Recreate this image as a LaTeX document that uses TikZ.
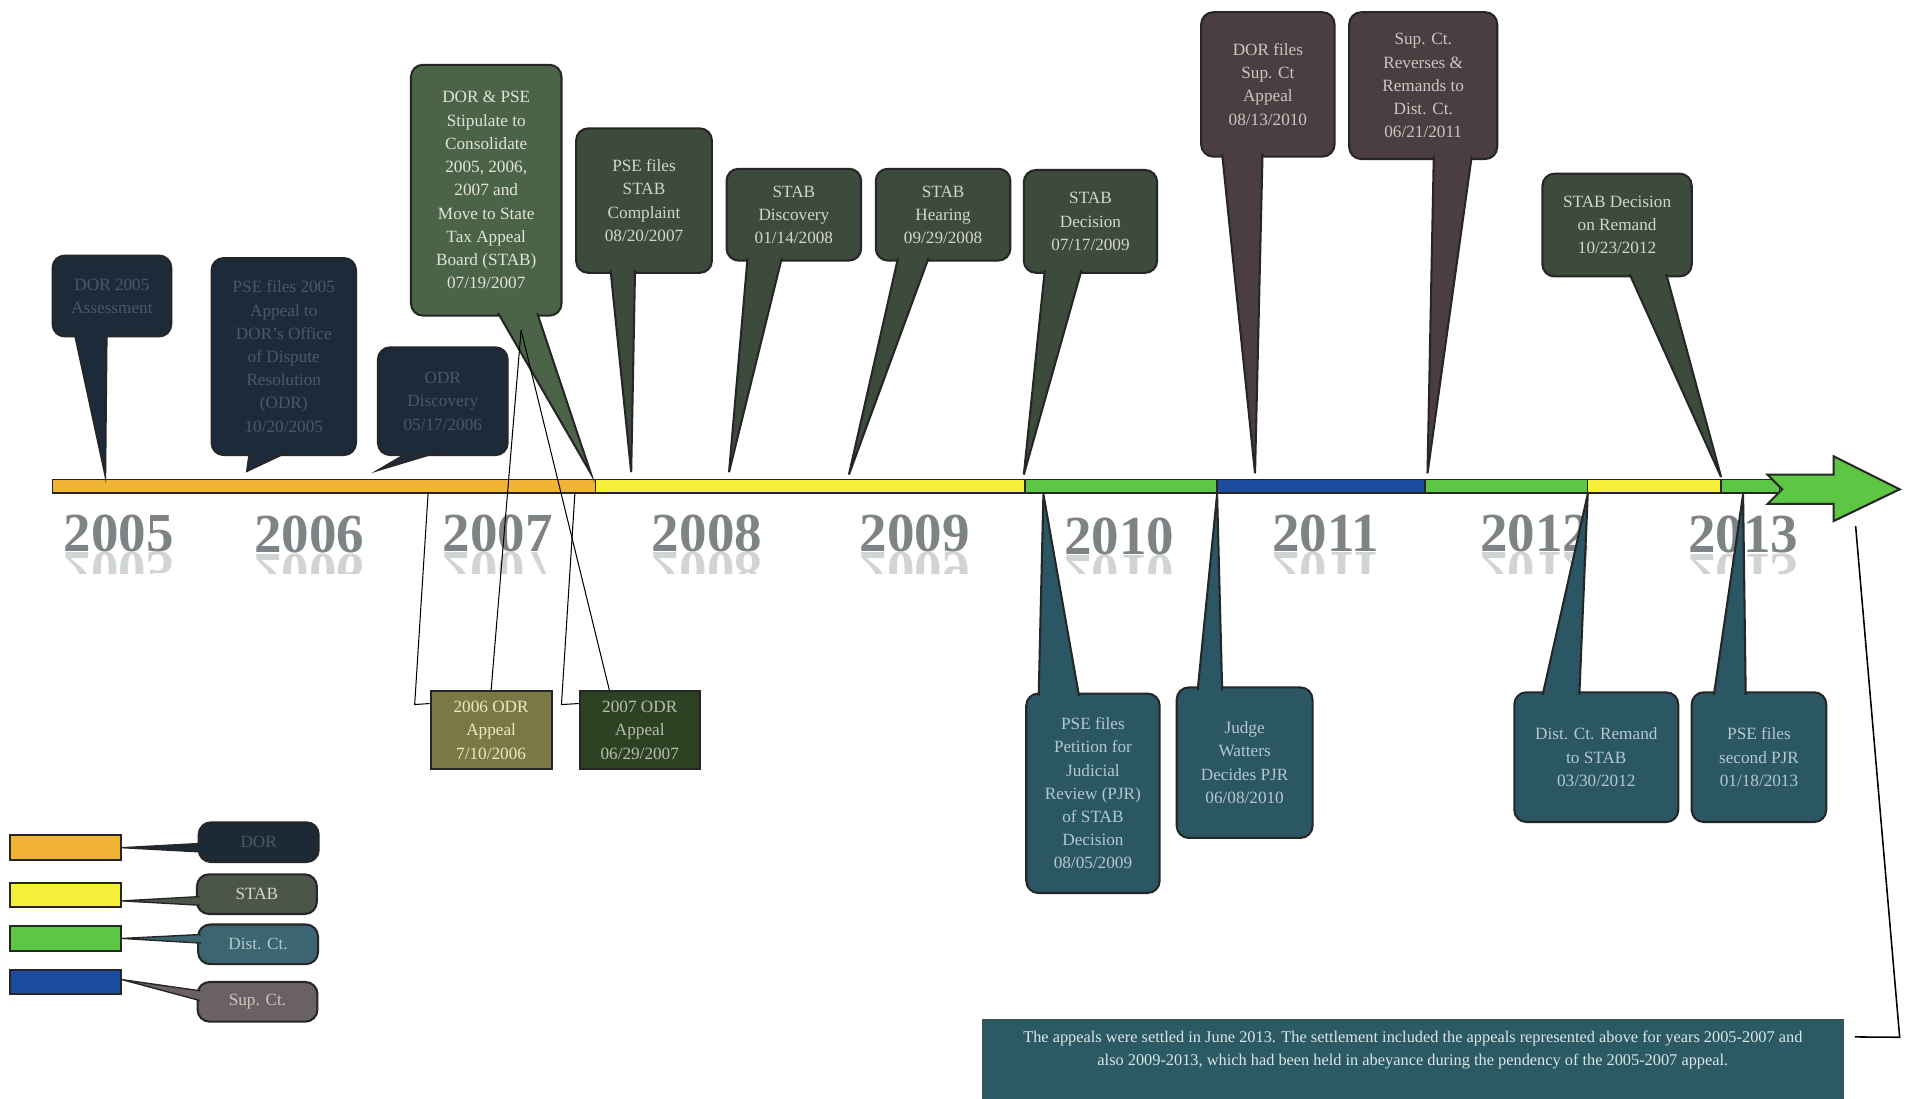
\documentclass[tikz,border=0pt]{standalone}
\usepackage{fontspec}
\setmainfont{Liberation Serif}
\usepackage{graphicx}
\usepackage{xcolor}
\usepackage{tikz}
\usetikzlibrary{shapes,arrows,positioning,calc}

\definecolor{dorbar}{HTML}{F1B434}
\definecolor{stabbar}{HTML}{F5EF3A}
\definecolor{distbar}{HTML}{5DC645}
\definecolor{supbar}{HTML}{1B4C9E}
\definecolor{dorfill}{HTML}{1C2B3A}
\definecolor{dortext}{HTML}{4C5866}
\definecolor{stabfill}{HTML}{3C4B3B}
\definecolor{stabtext}{HTML}{D4D6CC}
\definecolor{stipfill}{HTML}{4B6347}
\definecolor{stiptext}{HTML}{E2E4DA}
\definecolor{supfill}{HTML}{4B3E40}
\definecolor{suptext}{HTML}{CFC4C4}
\definecolor{distfill}{HTML}{2B5664}
\definecolor{disttext}{HTML}{B4C8CE}
\definecolor{odrsixfill}{HTML}{7A7946}
\definecolor{odrsixtext}{HTML}{ECE8C4}
\definecolor{odrsevenfill}{HTML}{2D4222}
\definecolor{odrseventext}{HTML}{B8BEA8}
\definecolor{settlefill}{HTML}{2B5A64}
\definecolor{settletext}{HTML}{DCE6E4}
\definecolor{keydorfill}{HTML}{1D2935}
\definecolor{keystabfill}{HTML}{4B5548}
\definecolor{keydistfill}{HTML}{3B6571}
\definecolor{keysupfill}{HTML}{6A6162}
\definecolor{yeargray}{HTML}{7E8486}

\begin{document}
\begin{tikzpicture}[x=0.025cm, y=-0.025cm]
  % Define styles
  \tikzstyle{bubble} = [rectangle, draw=black!85, very thick, rounded corners=7pt, align=center, inner sep=2pt, font=\fontsize{10}{13.5}\selectfont]
  \tikzstyle{dorbox} = [bubble, fill=dorfill, text=dortext]
  \tikzstyle{stabbox} = [bubble, fill=stabfill, text=stabtext]
  \tikzstyle{stipbox} = [bubble, fill=stipfill, text=stiptext]
  \tikzstyle{supbox} = [bubble, fill=supfill, text=suptext]
  \tikzstyle{distbox} = [bubble, fill=distfill, text=disttext]
  \tikzstyle{odrbox} = [rectangle, draw=black!85, very thick, align=center, font=\fontsize{10}{13.5}\selectfont, minimum height=1.6cm]
  \tikzstyle{ptr} = [draw=black!85, very thick]
  \tikzstyle{barseg} = [draw=black!85, thick]
  \tikzstyle{yearlbl} = [anchor=base, inner sep=0pt, font=\fontsize{32}{32}\selectfont\bfseries, text=yeargray]
  \tikzstyle{yearref} = [yearlbl, text opacity=0.35]
  \tikzstyle{link} = [black, line width=0.6pt]
  \tikzstyle{legbar} = [rectangle, draw=black!85, very thick, minimum width=2.275cm, minimum height=0.5cm]
  \tikzstyle{keybox} = [bubble, minimum width=2.45cm, minimum height=0.81cm]

  % Background
  \fill[white] (0,0) rectangle (1568,898);
  \useasboundingbox (0,0) rectangle (1568,898);

  % Timeline bar
  \filldraw[barseg, fill=dorbar] (43,392) rectangle (487,403);
  \filldraw[barseg, fill=stabbar] (487,392) rectangle (838,403);
  \filldraw[barseg, fill=distbar] (838,392) rectangle (995,403);
  \filldraw[barseg, fill=supbar] (995,392) rectangle (1165,403);
  \filldraw[barseg, fill=distbar] (1165,392) rectangle (1298,403);
  \filldraw[barseg, fill=stabbar] (1298,392) rectangle (1407,403);
  \filldraw[barseg, fill=distbar] (1407,392) rectangle (1455,403);
  \filldraw[barseg, very thick, fill=distbar] (1445,388) -- (1499,388) -- (1499,373) -- (1553,400) -- (1499,426) -- (1499,412) -- (1445,412) -- (1457,400) -- cycle;

  % Years
  \node[yearlbl] (y2005) at (97,451) {2005};
  \node[yearlbl] (y2006) at (253,452) {2006};
  \node[yearlbl] (y2007) at (407,451) {2007};
  \node[yearlbl] (y2008) at (578,451) {2008};
  \node[yearlbl] (y2009) at (748,451) {2009};
  \node[yearlbl] (y2010) at (915,453) {2010};
  \node[yearlbl] (y2011) at (1084,451) {2011};
  \node[yearlbl] (y2012) at (1255,451) {2012};
  \node[yearlbl] (y2013) at (1425,452) {2013};
  \begin{scope}
    \clip (40,452) rectangle (1500,469);
    \node[yearref] (r2005) at (97,452) {\scalebox{1}[-1]{2005}};
    \node[yearref] (r2006) at (253,453) {\scalebox{1}[-1]{2006}};
    \node[yearref] (r2007) at (407,452) {\scalebox{1}[-1]{2007}};
    \node[yearref] (r2008) at (578,452) {\scalebox{1}[-1]{2008}};
    \node[yearref] (r2009) at (748,452) {\scalebox{1}[-1]{2009}};
    \node[yearref] (r2010) at (915,454) {\scalebox{1}[-1]{2010}};
    \node[yearref] (r2011) at (1084,452) {\scalebox{1}[-1]{2011}};
    \node[yearref] (r2012) at (1255,452) {\scalebox{1}[-1]{2012}};
    \node[yearref] (r2013) at (1425,453) {\scalebox{1}[-1]{2013}};
  \end{scope}

  % Events above the bar
  \node[dorbox, minimum width=2.425cm, minimum height=1.65cm] (b05) at (91.5,242) {DOR 2005\\Assessment};
  \node[dorbox, minimum width=2.95cm, minimum height=4.025cm] (bodr) at (232,291.5) {PSE files 2005\\Appeal to\\DOR's Office\\of Dispute\\Resolution\\(ODR)\\10/20/2005};
  \node[dorbox, minimum width=2.65cm, minimum height=2.2cm] (bdisc06) at (362,328) {ODR\\Discovery\\05/17/2006};
  \node[stipbox, minimum width=3.075cm, minimum height=5.125cm] (bstip) at (397.5,155.5) {DOR \& PSE\\Stipulate to\\Consolidate\\2005, 2006,\\2007 and\\Move to State\\Tax Appeal\\Board (STAB)\\07/19/2007};
  \node[stabbox, minimum width=2.775cm, minimum height=2.95cm] (bcompl) at (526.5,164) {PSE files\\STAB\\Complaint\\08/20/2007};
  \node[stabbox, minimum width=2.75cm, minimum height=1.875cm] (bdisc08) at (649,175.5) {STAB\\Discovery\\01/14/2008};
  \node[stabbox, minimum width=2.75cm, minimum height=1.875cm] (bhear) at (771,175.5) {STAB\\Hearing\\09/29/2008};
  \node[stabbox, minimum width=2.725cm, minimum height=2.1cm] (bdec) at (891.5,181) {STAB\\Decision\\07/17/2009};
  \node[supbox, minimum width=2.725cm, minimum height=2.95cm] (bsupapp) at (1036.5,69) {DOR files\\Sup. Ct\\Appeal\\08/13/2010};
  \node[supbox, minimum width=3.025cm, minimum height=3cm] (bsuprev) at (1163.5,70) {Sup. Ct.\\Reverses \&\\Remands to\\Dist. Ct.\\06/21/2011};
  \node[stabbox, minimum width=3.05cm, minimum height=2.1cm] (bremdec) at (1322,184) {STAB Decision\\on Remand\\10/23/2012};

  % Pointers to the bar
  \coordinate (t05) at (86,388);
  \coordinate (todr) at (202,385);
  \coordinate (tdisc06) at (310,384);
  \coordinate (tstip) at (483,387);
  \coordinate (tcompl) at (516,386);
  \coordinate (tdisc08) at (596,386);
  \coordinate (thear) at (694,388);
  \coordinate (tdec) at (837,388);
  \coordinate (tsupapp) at (1026,387);
  \coordinate (tsuprev) at (1167,387);
  \coordinate (tremdec) at (1407,390);
  \filldraw[ptr, fill=dorfill] ($(b05.south west)+(19,-3)$) -- (t05) -- ($(b05.south west)+(45,-3)$);
  \filldraw[ptr, fill=dorfill] ($(bodr.south west)+(32,-3)$) -- (todr) -- ($(bodr.south west)+(62,-3)$);
  \filldraw[ptr, fill=dorfill] ($(bdisc06.south west)+(26,-3)$) -- (tdisc06) -- ($(bdisc06.south west)+(49,-3)$);
  \filldraw[ptr, fill=stipfill] ($(bstip.south west)+(72,-3)$) -- (tstip) -- ($(bstip.south west)+(104,-3)$);
  \filldraw[ptr, fill=stabfill] ($(bcompl.south west)+(29,-3)$) -- (tcompl) -- ($(bcompl.south west)+(49,-3)$);
  \filldraw[ptr, fill=stabfill] ($(bdisc08.south west)+(18,-3)$) -- (tdisc08) -- ($(bdisc08.south west)+(46,-3)$);
  \filldraw[ptr, fill=stabfill] ($(bhear.south west)+(19,-3)$) -- (thear) -- ($(bhear.south west)+(44,-3)$);
  \filldraw[ptr, fill=stabfill] ($(bdec.south west)+(18,-3)$) -- (tdec) -- ($(bdec.south west)+(48,-3)$);
  \filldraw[ptr, fill=supfill] ($(bsupapp.south west)+(18,-3)$) -- (tsupapp) -- ($(bsupapp.south west)+(51,-3)$);
  \filldraw[ptr, fill=supfill] ($(bsuprev.south west)+(70,-3)$) -- (tsuprev) -- ($(bsuprev.south west)+(101,-3)$);
  \filldraw[ptr, fill=stabfill] ($(bremdec.south west)+(72,-3)$) -- (tremdec) -- ($(bremdec.south west)+(102,-3)$);

  % Events below the bar
  \node[distbox, minimum width=2.725cm, minimum height=4.075cm] (bpjr) at (893.5,648.5) {PSE files\\Petition for\\Judicial\\Review (PJR)\\of STAB\\Decision\\08/05/2009};
  \node[distbox, minimum width=2.775cm, minimum height=3.075cm] (bjudge) at (1017.5,623.5) {Judge\\Watters\\Decides PJR\\06/08/2010};
  \node[distbox, minimum width=3.35cm, minimum height=2.65cm] (bremand) at (1305,619) {Dist. Ct. Remand\\to STAB\\03/30/2012};
  \node[distbox, minimum width=2.75cm, minimum height=2.65cm] (bpjr2) at (1438,619) {PSE files\\second PJR\\01/18/2013};
  \coordinate (tpjr) at (853,404);
  \coordinate (tjudge) at (995,404);
  \coordinate (tremand) at (1298,404);
  \coordinate (tpjr2) at (1425,404);
  \filldraw[ptr, fill=distfill] ($(bpjr.north west)+(11,3)$) -- (tpjr) -- ($(bpjr.north west)+(44,3)$);
  \filldraw[ptr, fill=distfill] ($(bjudge.north west)+(18,3)$) -- (tjudge) -- ($(bjudge.north west)+(38,3)$);
  \filldraw[ptr, fill=distfill] ($(bremand.north west)+(24,3)$) -- (tremand) -- ($(bremand.north west)+(54,3)$);
  \filldraw[ptr, fill=distfill] ($(bpjr2.north west)+(19,3)$) -- (tpjr2) -- ($(bpjr2.north west)+(45,3)$);

  % ODR appeals
  \node[odrbox, fill=odrsixfill, text=odrsixtext, minimum width=2.475cm] (bodr06) at (401.5,597) {2006 ODR\\Appeal\\7/10/2006};
  \node[odrbox, fill=odrsevenfill, text=odrseventext, minimum width=2.45cm] (bodr07) at (523,597) {2007 ODR\\Appeal\\06/29/2007};
  \coordinate (odr06bar) at (350,403);
  \coordinate (odr07bar) at (470,403);
  \coordinate (consol) at (426,270);
  \draw[link] (odr06bar) -- (339,576) -- ($(bodr06.north west)+(0,11)$);
  \draw[link] (odr07bar) -- (459,576) -- ($(bodr07.north west)+(0,11)$);
  \draw[link] (bodr06.north) -- (consol);
  \draw[link] ($(bodr07.north west)+(25,0)$) -- (consol);

  % Settlement
  \node[rectangle, draw=black!70, fill=settlefill, text=settletext, align=center, font=\fontsize{9.5}{13.5}\selectfont, minimum width=17.6cm, minimum height=1.7cm, text depth=0.5cm] (bsettle) at (1155,867) {The appeals were settled in June 2013. The settlement included the appeals represented above for years 2005-2007 and\\also 2009-2013, which had been held in abeyance during the pendency of the 2005-2007 appeal.};
  \coordinate (arrowfoot) at (1517,430);
  \draw[link, line width=0.9pt] (arrowfoot) -- (1553,848) -- ($(bsettle.north east)+(9,15)$);

  % Legend
  \node[legbar, fill=dorbar] (legdor) at (53.5,693) {};
  \node[legbar, fill=stabbar, below=0.42cm of legdor] (legstab) {};
  \node[legbar, fill=distbar, below=0.35cm of legstab] (legdist) {};
  \node[legbar, fill=supbar, below=0.35cm of legdist] (legsup) {};
  \node[keybox, fill=keydorfill, text=dortext] (keydor) at (211.5,688.5) {DOR};
  \node[keybox, fill=keystabfill, text=stabtext] (keystab) at (210,731) {STAB};
  \node[keybox, fill=keydistfill, text=disttext] (keydist) at (211,772) {Dist. Ct.};
  \node[keybox, fill=keysupfill, text=suptext] (keysup) at (210.5,819) {Sup. Ct.};
  \filldraw[ptr, thick, fill=keydorfill] ($(keydor.west)+(3,1)$) -- (legdor.east) -- ($(keydor.west)+(3,8)$);
  \filldraw[ptr, thick, fill=keystabfill] ($(keystab.west)+(3,2)$) -- ($(legstab.east)+(0,5)$) -- ($(keystab.west)+(3,9)$);
  \filldraw[ptr, thick, fill=keydistfill] ($(keydist.west)+(3,-8)$) -- (legdist.east) -- ($(keydist.west)+(3,-1)$);
  \filldraw[ptr, thick, fill=keysupfill] ($(keysup.west)+(3,-9)$) -- ($(legsup.east)+(0,-2)$) -- ($(keysup.west)+(3,-1)$);
\end{tikzpicture}
\end{document}
